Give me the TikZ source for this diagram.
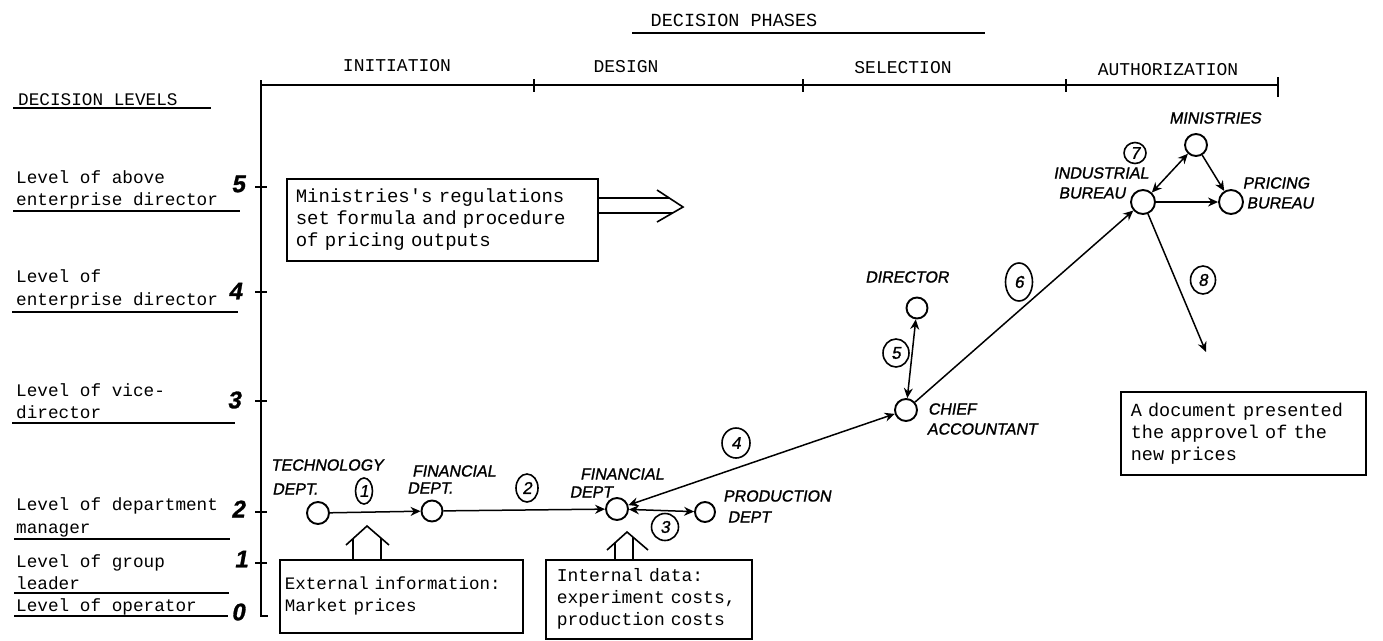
\documentclass[tikz,border=0pt]{standalone}
\usepackage{fontspec}
\setmonofont[WordSpace={1,0,0}]{Liberation Mono}
\newfontfamily\handfont[FakeSlant=0.18,FakeBold=1.2]{Liberation Sans}
\usetikzlibrary{arrows.meta,shapes.geometric}

\tikzset{
  tw/.style={font=\ttfamily\fontsize{18}{22}\selectfont, inner sep=0pt},
  lvl/.style={font=\ttfamily\fontsize{17.7}{22}\selectfont, inner sep=0pt, anchor=base west},
  hand/.style={font=\handfont\fontsize{16}{18}\selectfont, inner sep=0pt},
  axisnum/.style={font=\handfont\bfseries\fontsize{24}{24}\selectfont, inner sep=0pt},
  uline/.style={line width=1.6pt},
  axis/.style={line width=2.2pt},
  dept/.style={draw, circle, minimum size=22pt, inner sep=0pt, line width=1.9pt},
  conn/.style={line width=1.5pt, -{Stealth[length=10pt,width=9pt]}},
  both/.style={line width=1.5pt, {Stealth[length=10pt,width=9pt]}-{Stealth[length=10pt,width=9pt]}},
  num/.style={draw, ellipse, line width=1.6pt, inner sep=0pt, minimum width=24pt,
    minimum height=28pt, font=\handfont\fontsize{17}{17}\selectfont},
  note/.style={draw, line width=1.6pt, align=left, anchor=north west, inner ysep=0pt,
    font=\ttfamily\fontsize{18}{22}\selectfont},
  hollow/.style={line width=1.6pt, line join=miter},
}

\begin{document}
\begin{tikzpicture}[x=1pt,y=-1pt]
\useasboundingbox (0,0) rectangle (1383,640);

% ---------- phase axis ----------
\node[tw, font=\ttfamily\fontsize{18.5}{22}\selectfont] (phases) at (734,20) {DECISION PHASES};
\draw[uline] (632,33) -- (985,33);

\node[tw] (initiation) at (397,66) {INITIATION};
\node[tw] (design) at (626,67) {DESIGN};
\node[tw] (selection) at (903,68) {SELECTION};
\node[tw] (authorization) at (1168,70) {AUTHORIZATION};

\draw[axis] (261,80) -- (261,616) -- (268,616);
\draw[axis] (261,85) -- (1278,85);
\foreach \x in {534,803,1066} \draw[axis] (\x,79) -- (\x,92);
\draw[axis] (1278,77) -- (1278,97);
\foreach \y in {187,292,401,512,563} \draw[axis] (255,\y) -- (267,\y);

% ---------- level axis ----------
\node[lvl, anchor=west] (levels) at (18,100) {DECISION LEVELS};
\draw[uline] (13,108) -- (211,108);

\node[axisnum] (n5) at (238,184) {5};
\node[axisnum] (n4) at (235,291) {4};
\node[axisnum] (n3) at (234,400) {3};
\node[axisnum] (n2) at (238,509) {2};
\node[axisnum] (n1) at (241,559) {1};
\node[axisnum] (n0) at (238,612) {0};

\node[lvl] (l5a) at (16,183) {Level of above};
\node[lvl] (l5b) at (16,205) {enterprise director};
\draw[uline] (13,211) -- (240,211);
\node[lvl] (l4a) at (16,282) {Level of};
\node[lvl] (l4b) at (16,305) {enterprise director};
\draw[uline] (12,312) -- (238,312);
\node[lvl] (l3a) at (16,396) {Level of vice-};
\node[lvl] (l3b) at (16,418) {director};
\draw[uline] (12,423) -- (235,423);
\node[lvl] (l2a) at (16,510) {Level of department};
\node[lvl] (l2b) at (16,533) {manager};
\draw[uline] (14,539) -- (230,539);
\node[lvl] (l1a) at (16,567) {Level of group};
\node[lvl] (l1b) at (16,589) {leader};
\draw[uline] (14,593) -- (229,593);
\node[lvl] (l0a) at (16,611) {Level of operator};
\draw[uline] (14,616) -- (228,616);

% ---------- actors ----------
\node[dept] (tech) at (318,513) {};
\node[dept, minimum size=21pt] (fin1) at (432,511) {};
\node[dept] (fin2) at (617,509) {};
\node[dept, minimum size=20pt] (prod) at (705,512) {};
\node[dept] (chief) at (906,410) {};
\node[dept, minimum size=21pt] (dir) at (917,308) {};
\node[dept, minimum size=24pt] (ind) at (1143,202) {};
\node[dept] (mins) at (1196,145) {};
\node[dept, minimum size=24pt] (pri) at (1231,202) {};
\coordinate (doc8) at (1206,352);

\node[hand] (techA) at (327,465) {TECHNOLOGY};
\node[hand] (techB) at (295,489) {DEPT.};
\node[hand] (finA1) at (454,471) {FINANCIAL};
\node[hand] (finB1) at (430,488) {DEPT.};
\node[hand] (finA2) at (622,474) {FINANCIAL};
\node[hand] (finB2) at (591,492) {DEPT};
\node[hand] (prodA) at (777,496) {PRODUCTION};
\node[hand] (prodB) at (749,517) {DEPT};
\node[hand] (chiefA) at (952,409) {CHIEF};
\node[hand] (chiefB) at (982,429) {ACCOUNTANT};
\node[hand] (dirA) at (907,277) {DIRECTOR};
\node[hand] (indA) at (1101,173) {INDUSTRIAL};
\node[hand] (indB) at (1092,193) {BUREAU};
\node[hand] (minA) at (1215,118) {MINISTRIES};
\node[hand] (priA) at (1276,183) {PRICING};
\node[hand] (priB) at (1280,203) {BUREAU};

% ---------- flows ----------
\draw[conn] (tech) -- (fin1);
\draw[conn] (fin1) -- (fin2);
\draw[both] (fin2) -- (prod);
\draw[both] (fin2) -- (chief);
\draw[both] (dir) -- (chief);
\draw[conn] (chief) -- (ind);
\draw[both] (ind) -- (mins);
\draw[conn] (mins) -- (pri);
\draw[conn] (ind) -- (pri);
\draw[conn] (ind) -- (doc8);

\node[num, minimum width=17pt, minimum height=26pt] (s1) at (364,491) {1};
\node[num, minimum width=22pt] (s2) at (527,488) {2};
\node[num, minimum width=27pt, minimum height=27pt] (s3) at (665,527) {3};
\node[num, minimum width=28pt, minimum height=30pt] (s4) at (736,443) {4};
\node[num, minimum width=26pt] (s5) at (896,353) {5};
\node[num, minimum width=27pt, minimum height=38pt] (s6) at (1019,282) {6};
\node[num, minimum width=22pt, minimum height=21pt] (s7) at (1135,153) {7};
\node[num, minimum width=25pt] (s8) at (1203,280) {8};

% ---------- notes ----------
\node[note, font=\ttfamily\fontsize{19}{22}\selectfont, inner xsep=9pt, text width=293pt,
  minimum height=82pt] (rules) at (286,178)
  {Ministries's regulations\\set formula and procedure\\of pricing outputs};
\node[note, font=\ttfamily\fontsize{17.5}{22}\selectfont, inner xsep=5pt, text width=233pt,
  minimum height=73pt] (ext) at (279,559)
  {External information:\\Market prices\\[6pt]};
\node[note, inner xsep=11pt, text width=184pt, minimum height=79pt] (int) at (545,559)
  {Internal data:\\experiment costs,\\production costs};
\node[note, font=\ttfamily\fontsize{18.5}{22}\selectfont, inner xsep=10pt, text width=225pt,
  minimum height=83pt] (doc) at (1120,391)
  {A document presented\\the approvel of the\\new prices};

% hollow arrows
\draw[hollow] (rules.east |- 0,198) -- (669,198);
\draw[hollow] (rules.east |- 0,213) -- (673,213);
\draw[hollow] (657,190) -- (683,207) -- (657,222);

\draw[hollow] (353,559) -- (353,539);
\draw[hollow] (381,559) -- (381,538);
\draw[hollow] (346,545) -- (367,526) -- (389,545);

\draw[hollow] (615,559) -- (615,543);
\draw[hollow] (633,559) -- (633,537);
\draw[hollow] (607,550) -- (627,532) -- (648,550);
\end{tikzpicture}
\end{document}
